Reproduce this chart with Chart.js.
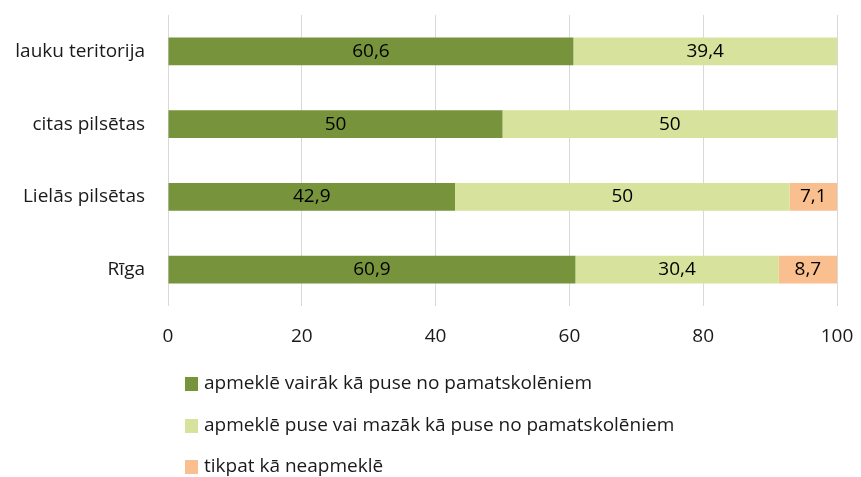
<!DOCTYPE html>
<html>
<head>
<meta charset="utf-8">
<script src="https://cdn.jsdelivr.net/npm/chart.js@4/dist/chart.umd.min.js"></script>
<style>
html,body{margin:0;padding:0;background:#fff;}
#wrap{width:861px;height:477px;position:relative;}
</style>
</head>
<body>
<div id="wrap"><canvas id="c" width="861" height="477"></canvas></div>
<script>
const categories = ['lauku teritorija', 'citas pilsētas', 'Lielās pilsētas', 'Rīga'];
const seriesNames = [
  'apmeklē vairāk kā puse no pamatskolēniem',
  'apmeklē puse vai mazāk kā puse no pamatskolēniem',
  'tikpat kā neapmeklē'
];
const moreThanHalf = [60.6, 50, 42.9, 60.9];
const halfOrLess = [39.4, 50, 50, 30.4];
const hardlyAny = [null, null, 7.1, 8.7];
const xTicks = [0, 20, 40, 60, 80, 100];
const colors = ['#77933C', '#D7E29C', '#FABF8F'];

const FONT = '"Open Sans", sans-serif';
const FSIZE = 19;

const labelPlugin = {
  id: 'barLabels',
  afterDatasetsDraw(chart) {
    const ctx = chart.ctx;
    ctx.save();
    ctx.font = FSIZE + 'px ' + FONT;
    ctx.fillStyle = '#000';
    ctx.textAlign = 'center';
    ctx.textBaseline = 'middle';
    chart.data.datasets.forEach((ds, di) => {
      const meta = chart.getDatasetMeta(di);
      meta.data.forEach((bar, i) => {
        const v = ds.data[i];
        if (v === null || v === undefined) return;
        const cx = (bar.x + bar.base) / 2;
        ctx.fillText(String(v).replace('.', ','), cx, bar.y);
      });
    });
    ctx.restore();
  }
};

const legendPlugin = {
  id: 'vertLegend',
  afterDraw(chart) {
    const ctx = chart.ctx;
    ctx.save();
    ctx.font = FSIZE + 'px ' + FONT;
    ctx.textAlign = 'left';
    ctx.textBaseline = 'middle';
    const x0 = 185;
    const yStart = chart.chartArea.bottom + 78;
    const step = 41.5;
    chart.data.datasets.forEach((ds, i) => {
      const y = yStart + i * step;
      ctx.fillStyle = ds.backgroundColor;
      ctx.fillRect(x0, Math.round(y - 7), 13, 14);
      ctx.fillStyle = '#1a1a1a';
      ctx.fillText(ds.label, x0 + 19, y);
    });
    ctx.restore();
  }
};

new Chart(document.getElementById('c'), {
  type: 'bar',
  data: {
    labels: categories,
    datasets: [
      { label: seriesNames[0], data: moreThanHalf, backgroundColor: colors[0] },
      { label: seriesNames[1], data: halfOrLess, backgroundColor: colors[1] },
      { label: seriesNames[2], data: hardlyAny, backgroundColor: colors[2] }
    ]
  },
  options: {
    indexAxis: 'y',
    responsive: false,
    animation: false,
    devicePixelRatio: 1,
    layout: { padding: { top: 15, right: 24, bottom: 121, left: 0 } },
    datasets: { bar: { barPercentage: 0.38, categoryPercentage: 1, borderWidth: 0 } },
    plugins: { legend: { display: false }, tooltip: { enabled: false } },
    scales: {
      x: {
        stacked: true,
        min: 0, max: 100,
        afterBuildTicks(scale) { scale.ticks = xTicks.map(v => ({ value: v })); },
        afterFit(scale) { scale.height = 50; scale.paddingLeft = 0; scale.paddingRight = 0; },
        grid: { color: '#D9D9D9', lineWidth: 1, drawTicks: false },
        border: { display: false },
        ticks: { padding: 19, color: '#1a1a1a', font: { family: FONT, size: FSIZE } }
      },
      y: {
        stacked: true,
        afterFit(scale) { scale.width = 168; scale.paddingTop = 0; scale.paddingBottom = 0; },
        grid: { display: false, drawTicks: false },
        border: { display: false },
        ticks: { padding: 23, color: '#1a1a1a', font: { family: FONT, size: FSIZE } }
      }
    }
  },
  plugins: [labelPlugin, legendPlugin]
});
</script>
</body>
</html>
